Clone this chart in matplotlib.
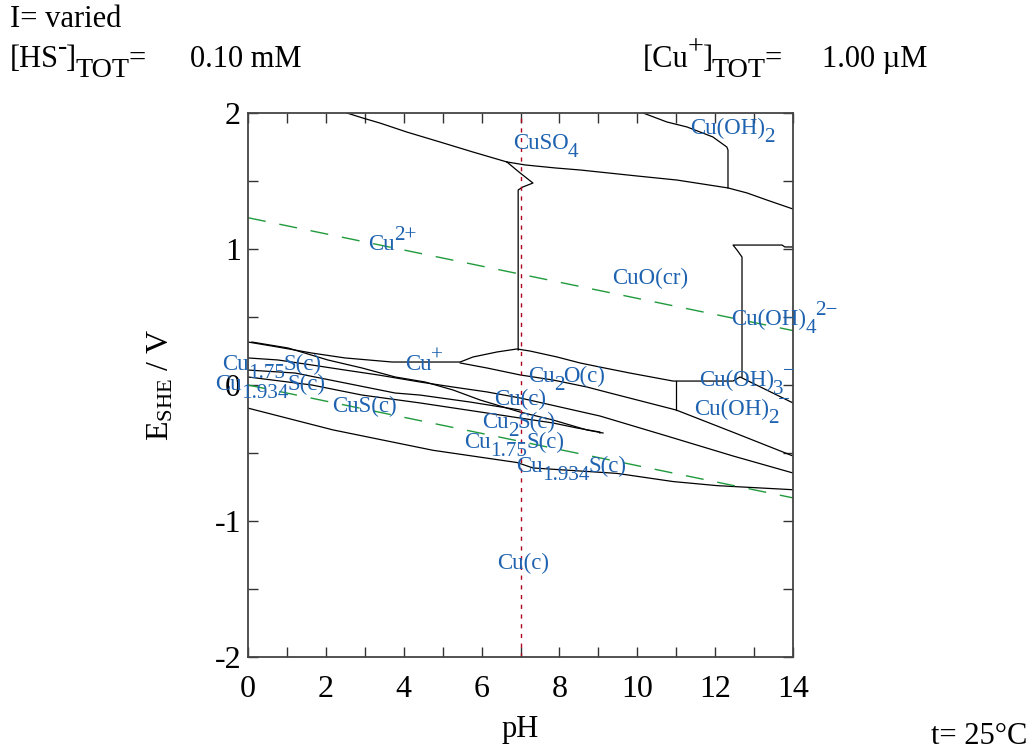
import matplotlib
matplotlib.use('Agg')
import matplotlib.pyplot as plt

plt.rcParams['font.family'] = ['Liberation Serif', 'DejaVu Serif']
plt.rcParams['mathtext.fontset'] = 'custom'
plt.rcParams['mathtext.rm'] = 'Liberation Serif'
plt.rcParams['mathtext.it'] = 'Liberation Serif:italic'
plt.rcParams['mathtext.default'] = 'regular'

# boundary lines (pH, E in V)
ph_top = [2.54, 2.95, 3.39, 4.08, 4.93, 5.78, 6.65]
e_top = [2.0, 1.963, 1.926, 1.86, 1.787, 1.713, 1.64]

ph_so4 = [6.65, 7.12, 7.89, 8.53, 9.99, 11.02, 12.33, 12.82, 13.33, 14.0]
e_so4 = [1.64, 1.618, 1.596, 1.581, 1.537, 1.507, 1.449, 1.412, 1.36, 1.294]

ph_notch = [6.65, 6.99, 7.32, 7.06, 6.94, 6.94]
e_notch = [1.64, 1.559, 1.485, 1.456, 1.434, 0.257]

ph_oh2 = [10.15, 10.76, 11.28, 11.94, 12.30, 12.33, 12.33]
e_oh2 = [2.0, 1.934, 1.897, 1.824, 1.75, 1.728, 1.449]

ph_cuo = [14.0, 13.79, 13.72, 12.46, 12.56, 12.69, 12.69]
e_cuo = [1.015, 1.015, 1.029, 1.029, 0.993, 0.941, 0.059]

ph_l1 = [0, 0.77, 1.64, 2.49, 3.70, 5.45, 5.78, 6.40, 6.91, 7.24, 7.94, 8.53,
         9.04, 9.81, 10.92, 12.46, 12.64, 14.0]
e_l1 = [0.316, 0.279, 0.235, 0.199, 0.169, 0.169, 0.206, 0.243, 0.265, 0.25,
        0.206, 0.162, 0.132, 0.088, 0.029, 0.029, 0.059, -0.132]

ph_l2 = [0.10, 1.03, 2.05, 2.93, 3.78, 4.55, 5.27, 5.96, 6.99, 7.83, 8.71, 9.12]
e_l2 = [0.316, 0.272, 0.184, 0.125, 0.059, 0.022, -0.037, -0.110, -0.199,
        -0.257, -0.331, -0.353]

ph_l3 = [5.45, 6.14, 6.99, 7.83, 8.71, 9.30, 11.0, 12.51, 14.0]
e_l3 = [0.162, 0.125, 0.074, 0.037, -0.015, -0.059, -0.184, -0.353, -0.522]

ph_l3v = [10.99, 10.99]
e_l3v = [0.029, -0.184]

ph_l4 = [0, 0.77, 1.64, 2.49, 3.34, 4.42, 5.27, 6.14, 7.0, 8.02, 9.04, 10.76,
         12.46, 14.0]
e_l4 = [0.199, 0.184, 0.147, 0.110, 0.074, 0.022, -0.015, -0.051, -0.096,
        -0.162, -0.228, -0.375, -0.522, -0.647]

ph_l5 = [0, 1.21, 2.49, 3.78, 4.42, 5.7, 6.99]
e_l5 = [0.110, 0.088, 0.015, -0.059, -0.074, -0.125, -0.184]

ph_l6 = [0, 1.64, 2.93, 4.42, 6.14, 6.99, 7.83, 8.45, 9.04, 9.04]
e_l6 = [0.059, 0.0, -0.074, -0.132, -0.206, -0.243, -0.279, -0.316, -0.346, -0.353]

ph_d = [0, 2.18, 4.75, 6.91, 7.32, 9.48, 10.92, 12.05, 14.0]
e_d = [-0.17, -0.33, -0.48, -0.57, -0.61, -0.65, -0.71, -0.74, -0.77]

ph_water = [0, 14]
e_o2 = [1.23, 0.40]
e_h2 = [0.0, -0.83]

ph_neutral = 7.0

boundaries = [(ph_top, e_top), (ph_so4, e_so4), (ph_notch, e_notch),
              (ph_oh2, e_oh2), (ph_cuo, e_cuo), (ph_l1, e_l1), (ph_l2, e_l2),
              (ph_l3, e_l3), (ph_l3v, e_l3v), (ph_l4, e_l4), (ph_l5, e_l5),
              (ph_l6, e_l6), (ph_d, e_d)]

# species labels: pieces of (text, level) with 0 normal, -1 sub, 1 sup
species = [
    [('CuSO', 0), ('4', -1)],
    [('Cu(OH)', 0), ('2', -1)],
    [('Cu', 0), ('2+', 1)],
    [('CuO(cr)', 0)],
    [('Cu(OH)', 0), ('4', -1), ('2−', 1)],
    [('Cu', 0), ('+', 1)],
    [('Cu', 0), ('1.75', -1), ('S(c)', 0)],
    [('Cu', 0), ('1.934', -1), ('S(c)', 0)],
    [('CuS(c)', 0)],
    [('Cu', 0), ('2', -1), ('O(c)', 0)],
    [('Cu(c)', 0)],
    [('Cu', 0), ('2', -1), ('S(c)', 0)],
    [('Cu', 0), ('1.75', -1), ('S(c)', 0)],
    [('Cu', 0), ('1.934', -1), ('S(c)', 0)],
    [('Cu(OH)', 0), ('3', -1), ('−', 1)],
    [('Cu(OH)', 0), ('2', -1), ('−', 1)],
    [('Cu(c)', 0)],
]
# left edge and baseline of each label
species_ph = [6.81, 11.35, 3.08, 9.35, 12.41, 4.03, -0.67, -0.85, 2.16, 7.19,
              6.32, 6.01, 5.55, 6.88, 11.58, 11.46, 6.40]
species_e = [1.735, 1.846, 0.993, 0.743, 0.441, 0.110, 0.110, -0.037, -0.199,
             0.022, -0.147, -0.316, -0.463, -0.640, -0.007, -0.221, -1.353]

fig = plt.figure(figsize=(10.35, 7.51), dpi=100)
ax = fig.add_axes([248 / 1035, 1 - 657 / 751, 545 / 1035, 544 / 751])
renderer = fig.canvas.get_renderer()


def rich(x, y, parts, size, color='black', coords='data'):
    # lay out normal / sub / sup pieces one after another
    pos = 0.0
    for s, lvl in parts:
        fs = size if lvl == 0 else size * 0.92
        t = fig.text(0, 0, s, fontsize=fs)
        w = t.get_window_extent(renderer).width * 72 / fig.dpi
        t.remove()
        dy = {0: 0, -1: -0.34 * size, 1: 0.42 * size}[lvl]
        ax.annotate(s, (x, y), xycoords=coords, xytext=(pos, dy),
                    textcoords='offset points', fontsize=fs, color=color,
                    ha='left', va='baseline', annotation_clip=False)
        pos += w - 0.035 * size


for ph, e in boundaries:
    ax.plot(ph, e, color='black', lw=0.9)

ax.plot(ph_water, e_o2, color='#1f9a3c', lw=1.0, dashes=(13, 10))
ax.plot(ph_water, e_h2, color='#1f9a3c', lw=1.0, dashes=(13, 10))
ax.axvline(ph_neutral, color='#b0001e', lw=1.0, dashes=(3, 4))

for parts, x, y in zip(species, species_ph, species_e):
    rich(x, y, parts, 16.5, color='#1f63b0')

ax.set_xlim(0, 14)
ax.set_ylim(-2, 2)
ax.set_xticks(range(0, 15))
ax.set_xticklabels([str(i) if i % 2 == 0 else '' for i in range(0, 15)])
ax.set_yticks([-2, -1.5, -1, -0.5, 0, 0.5, 1, 1.5, 2])
ax.set_yticklabels(['-2', '', '-1', '', '0', '', '1', '', '2'])
ax.tick_params(direction='in', length=7, width=1, top=True, right=True,
               labelsize=23, color='#333333')
ax.tick_params(axis='x', pad=13)
ax.tick_params(axis='y', pad=5)
for sp in ax.spines.values():
    sp.set_color('#444444')
    sp.set_linewidth(1.3)

ax.set_xlabel('pH', fontsize=22, labelpad=8)
ax.set_ylabel('E$_{SHE}$ / V', fontsize=23, labelpad=28)

fig.text(10 / 1035, 1 - 27 / 751, 'I= varied', fontsize=22, va='baseline')
rich(10, 751 - 67, [('[HS', 0), ('-', 1), (']', 0), ('TOT', -1), ('=', 0)], 22,
     coords='figure pixels')
fig.text(190 / 1035, 1 - 67 / 751, '0.10 mM', fontsize=22, va='baseline')
rich(643, 751 - 67, [('[Cu', 0), ('+', 1), (']', 0), ('TOT', -1), ('=', 0)], 22,
     coords='figure pixels')
fig.text(822 / 1035, 1 - 67 / 751, '1.00 µM', fontsize=22, va='baseline')
fig.text(1027 / 1035, 1 - 744 / 751, 't= 25°C', fontsize=22, ha='right', va='baseline')

fig.savefig('out.png', dpi=100)
